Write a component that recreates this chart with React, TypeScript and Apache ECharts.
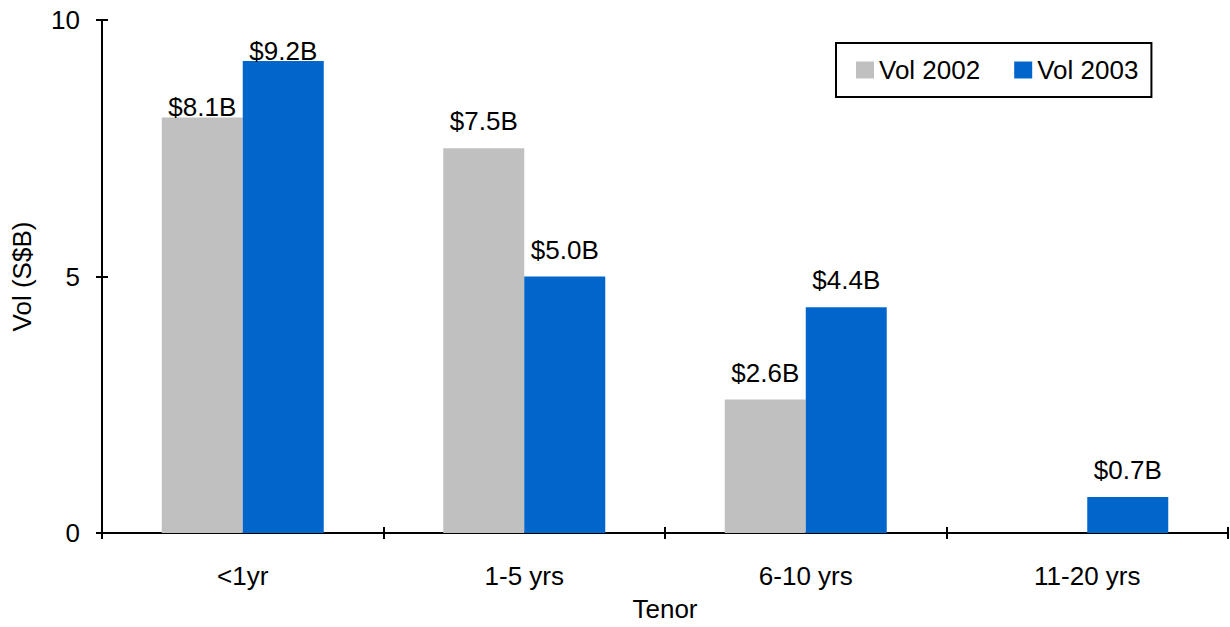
import React, { useEffect, useRef } from "react";
import * as echarts from "echarts";

const categories = ["<1yr", "1-5 yrs", "6-10 yrs", "11-20 yrs"];
const vol2002: (number | null)[] = [8.1, 7.5, 2.6, null];
const vol2003: number[] = [9.2, 5.0, 4.4, 0.7];
const seriesNames = ["Vol 2002", "Vol 2003"];
const yTicks = { min: 0, max: 10, interval: 5 };

// label distance above the bar top; the tall bars near the plot top sit tighter
const labelDist2002 = [-3, 14, 14, 14];
const labelDist2003 = [-3, 14, 14, 14];

const FONT = "'Liberation Sans', Arial, sans-serif";
const FS = 26;

export default function App() {
  const ref = useRef<HTMLDivElement>(null);

  useEffect(() => {
    if (!ref.current) return;
    const chart = echarts.init(ref.current, undefined, { renderer: "svg" });
    const fmt = (p: any) => "$" + Number(p.value).toFixed(1) + "B";
    const mk = (vals: (number | null)[], dists: number[]) =>
      vals.map((v, i) =>
        v == null ? "-" : { value: v, label: { distance: dists[i] } }
      );
    const tickStyle = { color: "#000", width: 2 };

    chart.setOption({
      animation: false,
      textStyle: { fontFamily: FONT },
      grid: { left: 102, top: 20, right: 2, bottom: 91, containLabel: false },
      legend: {
        data: seriesNames,
        left: 836,
        top: 43,
        orient: "horizontal",
        padding: [14, 13, 14, 20],
        itemGap: 34,
        itemWidth: 18,
        itemHeight: 17,
        icon: "rect",
        borderColor: "#000",
        borderWidth: 2,
        textStyle: { fontSize: FS, color: "#000", fontFamily: FONT },
      },
      xAxis: [
        {
          type: "category",
          data: categories,
          position: "bottom",
          axisLine: { lineStyle: { color: "#000", width: 2 } },
          axisTick: { show: true, length: 6, lineStyle: tickStyle },
          axisLabel: { fontSize: FS, color: "#000", margin: 30, fontFamily: FONT },
          name: "Tenor",
          nameLocation: "middle",
          nameGap: 63,
          nameTextStyle: { fontSize: FS, color: "#000", fontFamily: FONT },
        },
        {
          type: "category",
          data: categories,
          position: "bottom",
          axisLine: { show: false },
          axisTick: { show: true, inside: true, length: 6, lineStyle: tickStyle },
          axisLabel: { show: false },
        },
      ],
      yAxis: [
        {
          type: "value",
          min: yTicks.min,
          max: yTicks.max,
          interval: yTicks.interval,
          position: "left",
          splitLine: { show: false },
          axisLine: { show: true, lineStyle: { color: "#000", width: 2 } },
          axisTick: { show: true, length: 6, lineStyle: tickStyle },
          axisLabel: { fontSize: FS, color: "#000", margin: 22, fontFamily: FONT },
          name: "Vol (S$B)",
          nameLocation: "middle",
          nameGap: 67,
          nameRotate: 90,
          nameTextStyle: { fontSize: FS, color: "#000", fontFamily: FONT },
        },
        {
          type: "value",
          min: yTicks.min,
          max: yTicks.max,
          interval: yTicks.interval,
          position: "left",
          offset: 0,
          splitLine: { show: false },
          axisLine: { show: false },
          axisTick: { show: true, inside: true, length: 6, lineStyle: tickStyle },
          axisLabel: { show: false },
        },
      ],
      series: [
        {
          name: seriesNames[0],
          type: "bar",
          data: mk(vol2002, labelDist2002),
          barWidth: 81,
          barGap: "0%",
          itemStyle: { color: "#C0C0C0" },
          label: {
            show: true,
            position: "top",
            formatter: fmt,
            fontSize: FS,
            color: "#000",
            fontFamily: FONT,
          },
        },
        {
          name: seriesNames[1],
          type: "bar",
          data: mk(vol2003, labelDist2003),
          barWidth: 81,
          barGap: "0%",
          itemStyle: { color: "#0066CC" },
          label: {
            show: true,
            position: "top",
            formatter: fmt,
            fontSize: FS,
            color: "#000",
            fontFamily: FONT,
          },
        },
      ],
    });
    return () => chart.dispose();
  }, []);

  return (
    <div
      ref={ref}
      style={{ position: "fixed", left: 0, top: 0, width: 1230, height: 627, background: "#fff" }}
    />
  );
}
